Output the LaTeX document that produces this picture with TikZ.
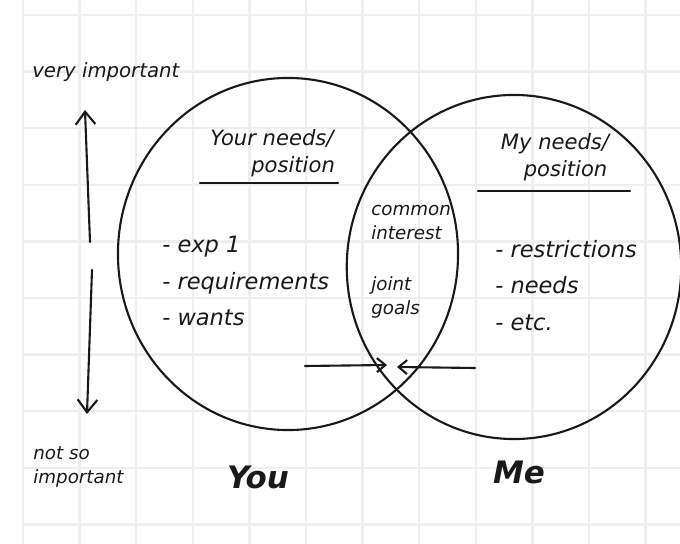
\documentclass[tikz,border=0pt]{standalone}
\usepackage{fontspec}
\setmainfont{DejaVu Sans}
\usetikzlibrary{arrows.meta}

\tikzset{
    gridline/.style={draw=gray!13, line width=1.6pt},
    pen/.style={draw=black!90, line width=1.5pt, line cap=round},
    hand/.style={font=\fontsize{16}{26}\selectfont\itshape, inner sep=0pt, align=left, text=black!90},
    small hand/.style={hand, font=\fontsize{13}{17}\selectfont\itshape},
    big hand/.style={hand, font=\fontsize{22}{24}\selectfont\bfseries\itshape},
}

\begin{document}
\begin{tikzpicture}[x=0.025cm, y=-0.025cm]
    \useasboundingbox (0,0) rectangle (680,544);
    % squared paper
    \foreach \i in {0,...,11}
        \draw[gridline] (23+56.6*\i,0) -- (23+56.6*\i,544);
    \foreach \j in {0,...,9}
        \draw[gridline] (23,15+56.6*\j) -- (680,15+56.6*\j);

    % the two circles
    \draw[pen] (288,254) ellipse [x radius=4.25cm, y radius=4.4cm];
    \draw[pen] (514,267) ellipse [x radius=4.18cm, y radius=4.3cm];

    % importance scale
    \node[small hand, font=\fontsize{14}{17}\selectfont\itshape, anchor=west] (veryimp) at (32,72) {very important};
    \node[small hand, anchor=west] (notimp) at (33,467) {not so\\important};
    \coordinate (midup) at (90,242);
    \coordinate (toptip) at (85,110);
    \coordinate (middown) at (92,270);
    \coordinate (bottip) at (87,414);
    \draw[pen, -{Straight Barb[length=9pt, width=14pt]}] (midup) -- (toptip);
    \draw[pen, -{Straight Barb[length=9pt, width=14pt]}] (middown) -- (bottip);

    % your side
    \node[hand, font=\fontsize{15}{19}\selectfont\itshape, align=center] (yourneeds) at (272,153) {Your needs/\\\hspace*{2em}position};
    \draw[pen] (200,183) -- (338,183);
    \node[hand, anchor=north west] (yourlist) at (162,236) {- exp 1\\- requirements\\- wants};

    % my side
    \node[hand, font=\fontsize{15}{19}\selectfont\itshape, align=center] (myneeds) at (555,157) {My needs/\\\hspace*{1em}position};
    \draw[pen] (478,191) -- (630,191);
    \node[hand, anchor=north west] (mylist) at (495,240) {- restrictions\\- needs\\- etc.};

    % overlap
    \node[small hand, anchor=north west] (common) at (371,205) {common\\interest};
    \node[small hand, anchor=north west] (joint) at (371,276) {joint\\goals};

    % coming together
    \coordinate (lstart) at (305,366);
    \coordinate (ltip) at (387,365);
    \coordinate (rstart) at (475,368);
    \coordinate (rtip) at (397,367);
    \draw[pen, -{Straight Barb[length=6pt, width=10pt]}] (lstart) -- (ltip);
    \draw[pen, -{Straight Barb[length=6pt, width=10pt]}] (rstart) -- (rtip);

    \node[big hand] (you) at (258,477) {You};
    \node[big hand] (me) at (519,472) {Me};
\end{tikzpicture}
\end{document}
